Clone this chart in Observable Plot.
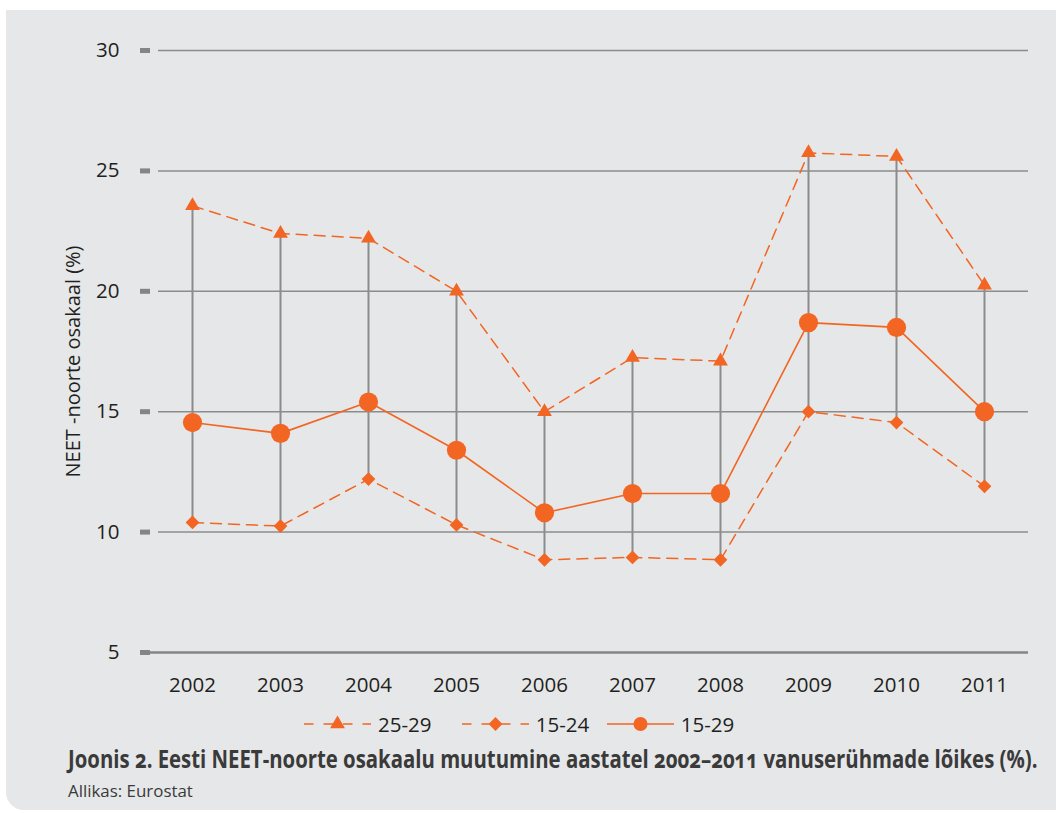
<!DOCTYPE html>
<html>
<head>
<meta charset="utf-8">
<script src="https://cdn.jsdelivr.net/npm/d3@7"></script>
<script src="https://cdn.jsdelivr.net/npm/@observablehq/plot@0.6"></script>
<style>
  html, body { margin: 0; padding: 0; background: #ffffff; }
  #page { position: relative; width: 1056px; height: 813px; overflow: hidden; font-family: "Open Sans", "Noto Sans", sans-serif; }
  #panel { position: absolute; left: 6px; top: 10px; width: 1060px; height: 800px; background: #e6e7e8; border-bottom-left-radius: 18px; }
  #chart { position: absolute; left: 0; top: 0; }
  .legend-item { position: absolute; top: 713px; height: 22px; display: flex; align-items: center; font-size: 20.5px; color: #231f20; }
  .legend-item svg { display: block; margin-right: 7px; }
  #caption { position: absolute; left: 0; top: 740px; }
</style>
</head>
<body>
<div id="page">
  <div id="panel"></div>
  <div id="chart"></div>
  <div id="legend"></div>
  <svg id="caption" width="1056" height="66"></svg>
</div>
<script>
// ---- Data ----
const years = ["2002", "2003", "2004", "2005", "2006", "2007", "2008", "2009", "2010", "2011"];
const age2529 = [23.55, 22.4, 22.2, 20.0, 15.0, 17.25, 17.1, 25.75, 25.6, 20.25];
const age1524 = [10.4, 10.25, 12.2, 10.3, 8.85, 8.95, 8.85, 15.0, 14.55, 11.9];
const age1529 = [14.55, 14.1, 15.4, 13.4, 10.8, 11.6, 11.6, 18.7, 18.5, 15.0];
const yTicks = [5, 10, 15, 20, 25, 30];
const seriesNames = ["25-29", "15-24", "15-29"];
const yTitle = "NEET -noorte osakaal (%)";
const captionText = "Joonis 2. Eesti NEET-noorte osakaalu muutumine aastatel 2002–2011 vanuserühmade lõikes (%).";
const sourceText = "Allikas: Eurostat";

const orange = "#f26522";
const gray = "#8c8c8c";

const data = years.map((year, i) => ({ year, a2529: age2529[i], a1524: age1524[i], a1529: age1529[i] }));

const chart = Plot.plot({
  width: 1056,
  height: 705,
  marginLeft: 158,
  marginRight: 28,
  marginTop: 50,
  marginBottom: 53,
  style: { background: "transparent", fontFamily: "'Open Sans', 'Noto Sans', sans-serif", fontSize: "20.5px", color: "#231f20", overflow: "visible" },
  x: { type: "point", domain: years, range: [191.7, 985], padding: 0, label: null },
  y: { domain: [5, 30], label: null },
  marks: [
    Plot.ruleY(yTicks.filter(d => d > 5), { stroke: gray, strokeWidth: 1.5 }),
    Plot.ruleY([5], { stroke: "#858585", strokeWidth: 2.5, insetLeft: -18 }),
    Plot.axisY(yTicks, { tickSize: 10, dx: -8, tickPadding: 21, stroke: "#858585", strokeWidth: 5, strokeOpacity: 1, label: null, tickFormat: d => String(d) }),
    Plot.axisX({ tickSize: 0, tickPadding: 25, label: null }),
    Plot.text([yTitle], { text: d => d, frameAnchor: "left", textAnchor: "middle", lineAnchor: "middle", rotate: -90, dx: -85, dy: 10, fontSize: 20, fill: "#231f20" }),
    Plot.ruleX(data, { x: "year", y1: "a1524", y2: "a2529", stroke: gray, strokeWidth: 2 }),
    Plot.line(data, { x: "year", y: "a2529", stroke: orange, strokeWidth: 1.5, strokeDasharray: "11,7" }),
    Plot.line(data, { x: "year", y: "a1524", stroke: orange, strokeWidth: 1.5, strokeDasharray: "11,7" }),
    Plot.line(data, { x: "year", y: "a1529", stroke: orange, strokeWidth: 1.6 }),
    Plot.dot(data, { x: "year", y: "a2529", symbol: "triangle", r: 5.5, fill: orange }),
    Plot.dot(data, { x: "year", y: "a1524", symbol: "diamond2", r: 6.2, fill: orange }),
    Plot.dot(data, { x: "year", y: "a1529", symbol: "circle", r: 9.6, fill: orange })
  ]
});
document.getElementById("chart").appendChild(chart);

// ---- Legend ----
const legendSpecs = [
  { name: seriesNames[0], left: 304, dash: "9.5,10", symbol: d3.symbolTriangle, size: Math.PI * 5.5 * 5.5 },
  { name: seriesNames[1], left: 461.7, dash: "9.5,10", symbol: d3.symbolDiamond2, size: Math.PI * 6.2 * 6.2 },
  { name: seriesNames[2], left: 606.7, dash: null, symbol: d3.symbolCircle, size: Math.PI * 7 * 7 }
];
const legend = document.getElementById("legend");
for (const s of legendSpecs) {
  const item = document.createElement("div");
  item.className = "legend-item";
  item.style.left = s.left + "px";
  const w = 67;
  const path = d3.symbol(s.symbol, s.size)();
  item.innerHTML =
    `<svg width="${w}" height="22" viewBox="0 0 ${w} 22">` +
    `<line x1="0" x2="${w}" y1="11" y2="11" stroke="${orange}" stroke-width="1.5" ${s.dash ? `stroke-dasharray="${s.dash}"` : ""}/>` +
    `<path d="${path}" transform="translate(${w / 2},11)" fill="${orange}"/>` +
    `</svg><span>${s.name}</span>`;
  legend.appendChild(item);
}

// ---- Caption (condensed by horizontal scaling to the reference width) ----
const cap = d3.select("#caption");
function condensedText(str, x, y, targetWidth, size, weight) {
  const g = cap.append("g");
  const t = g.append("text")
    .attr("x", 0).attr("y", 0)
    .attr("font-family", "'Open Sans', 'Noto Sans', sans-serif")
    .attr("font-weight", weight).attr("font-size", size)
    .style("font-variant-numeric", "oldstyle-nums")
    .attr("fill", "#3a3a3a")
    .text(str);
  const natural = t.node().getComputedTextLength();
  const k = Math.min(1, targetWidth / natural);
  g.attr("transform", `translate(${x},${y}) scale(${k},1)`);
}
condensedText(captionText, 68, 28, 970, 25, 700);
condensedText(sourceText, 68, 57, 125, 17, 400);
</script>
</body>
</html>
